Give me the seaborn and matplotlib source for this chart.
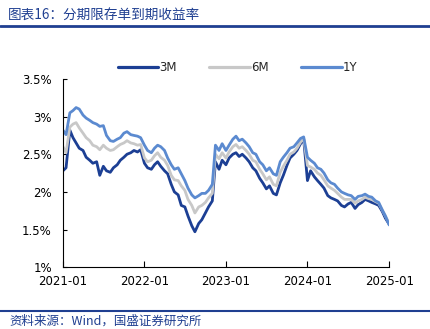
import numpy as np
import pandas as pd
import matplotlib
matplotlib.use("Agg")
import matplotlib.pyplot as plt
import seaborn as sns

dates = pd.date_range("2021-01-01", "2025-01-01", freq="SMS")

y3m = [2.28, 2.32, 2.82, 2.72, 2.65, 2.58, 2.55, 2.46, 2.42, 2.38, 2.40, 2.22, 2.34, 2.28, 2.26, 2.32, 2.36, 2.42, 2.46, 2.50, 2.52, 2.55, 2.53, 2.56,
       2.38, 2.32, 2.30, 2.36, 2.40, 2.34, 2.28, 2.24, 2.10, 2.00, 1.96, 1.82, 1.80, 1.68, 1.55, 1.47, 1.58, 1.63, 1.72, 1.80, 1.88, 2.40, 2.30, 2.42,
       2.36, 2.45, 2.50, 2.52, 2.47, 2.50, 2.45, 2.40, 2.32, 2.28, 2.18, 2.12, 2.04, 2.08, 1.98, 1.96, 2.12, 2.22, 2.35, 2.45, 2.50, 2.55, 2.64, 2.70,
       2.15, 2.28, 2.20, 2.15, 2.10, 2.05, 1.95, 1.92, 1.90, 1.88, 1.82, 1.80, 1.84, 1.86, 1.78, 1.83, 1.86, 1.90, 1.88, 1.86, 1.84, 1.82, 1.74, 1.65,
       1.57]
y6m = [2.60, 2.52, 2.86, 2.90, 2.92, 2.85, 2.78, 2.72, 2.68, 2.62, 2.60, 2.56, 2.62, 2.58, 2.55, 2.56, 2.60, 2.63, 2.65, 2.68, 2.65, 2.64, 2.62, 2.63,
       2.45, 2.40, 2.42, 2.48, 2.52, 2.46, 2.42, 2.35, 2.22, 2.16, 2.15, 2.08, 2.02, 1.90, 1.82, 1.72, 1.80, 1.82, 1.86, 1.92, 1.98, 2.50, 2.44, 2.52,
       2.45, 2.53, 2.60, 2.63, 2.58, 2.60, 2.55, 2.50, 2.42, 2.40, 2.30, 2.24, 2.16, 2.20, 2.10, 2.08, 2.26, 2.34, 2.42, 2.50, 2.53, 2.58, 2.66, 2.71,
       2.35, 2.33, 2.30, 2.25, 2.22, 2.16, 2.08, 2.05, 2.02, 1.98, 1.93, 1.90, 1.90, 1.90, 1.85, 1.88, 1.90, 1.93, 1.91, 1.90, 1.87, 1.85, 1.76, 1.68,
       1.58]
y1y = [2.82, 2.76, 3.05, 3.08, 3.12, 3.10, 3.02, 2.98, 2.95, 2.92, 2.90, 2.87, 2.88, 2.75, 2.68, 2.67, 2.70, 2.72, 2.78, 2.80, 2.76, 2.75, 2.74, 2.72,
       2.62, 2.55, 2.52, 2.58, 2.62, 2.60, 2.55, 2.45, 2.36, 2.30, 2.32, 2.24, 2.15, 2.05, 1.96, 1.92, 1.95, 1.98, 1.98, 2.02, 2.10, 2.62, 2.55, 2.64,
       2.55, 2.62, 2.70, 2.74, 2.68, 2.70, 2.65, 2.60, 2.52, 2.50, 2.40, 2.36, 2.28, 2.32, 2.24, 2.22, 2.40, 2.46, 2.52, 2.58, 2.60, 2.65, 2.71, 2.73,
       2.46, 2.42, 2.38, 2.32, 2.30, 2.25, 2.16, 2.12, 2.10, 2.05, 2.00, 1.98, 1.96, 1.95, 1.90, 1.94, 1.95, 1.97, 1.94, 1.93, 1.88, 1.86, 1.76, 1.68,
       1.56]

series = ["3M", "6M", "1Y"]
colors = {"3M": "#1C3F94", "6M": "#C8C8C8", "1Y": "#5B8AD0"}

df = pd.concat([
    pd.DataFrame({"date": dates, "value": y3m, "series": "3M"}),
    pd.DataFrame({"date": dates, "value": y6m, "series": "6M"}),
    pd.DataFrame({"date": dates, "value": y1y, "series": "1Y"}),
])

sns.set_theme(style="white")
plt.rcParams["font.family"] = ["DejaVu Sans", "Noto Sans CJK SC"]

fig = plt.figure(figsize=(4.31, 3.29), dpi=100)
ax = fig.add_axes([0.146, 0.188, 0.757, 0.572])

sns.lineplot(data=df, x="date", y="value", hue="series", hue_order=series,
             palette=colors, linewidth=2.0, ax=ax, legend=True)

ax.set_xlim(pd.Timestamp("2021-01-01"), pd.Timestamp("2025-01-01"))
ax.set_ylim(1.0, 3.5)
ax.set_xlabel("")
ax.set_ylabel("")
yt = [1.0, 1.5, 2.0, 2.5, 3.0, 3.5]
ax.set_yticks(yt)
ax.set_yticklabels(["1%", "1.5%", "2%", "2.5%", "3%", "3.5%"])
xt = pd.to_datetime(["2021-01-01", "2022-01-01", "2023-01-01", "2024-01-01", "2025-01-01"])
ax.set_xticks(xt)
ax.set_xticklabels(["2021-01", "2022-01", "2023-01", "2024-01", "2025-01"])
ax.tick_params(axis="both", labelsize=8.5, colors="black")
ax.tick_params(axis="x", direction="in", length=4, width=0.8, bottom=True, pad=6)
ax.tick_params(axis="y", direction="in", length=3, width=0.8, left=True, pad=8)
for s in ["top", "right"]:
    ax.spines[s].set_visible(False)
for s in ["left", "bottom"]:
    ax.spines[s].set_color("black")
    ax.spines[s].set_linewidth(0.8)

leg = ax.legend(loc="lower center", bbox_to_anchor=(0.535, 0.99), ncol=3, frameon=False,
                fontsize=8.5, handlelength=3.4, columnspacing=2.8, handletextpad=0.1,
                borderaxespad=0.2)
for line in leg.get_lines():
    line.set_linewidth(2.3)

fig.text(0.018, 0.955, "图表16：分期限存单到期收益率", fontsize=9.8, color="#1F3F91",
         style="italic", family=["Noto Sans CJK SC", "DejaVu Sans"], va="center")
fig.add_artist(plt.Line2D([0, 1], [0.921, 0.921], color="#1F3F91", linewidth=2, transform=fig.transFigure))
fig.add_artist(plt.Line2D([0, 1], [0.055, 0.055], color="#1F3F91", linewidth=1.5, transform=fig.transFigure))
fig.text(0.022, 0.025, "资料来源：Wind，国盛证券研究所", fontsize=9, color="#1F3F91",
         style="italic", family=["Noto Sans CJK SC", "DejaVu Sans"], va="center")

fig.savefig("out.png", dpi=100)
